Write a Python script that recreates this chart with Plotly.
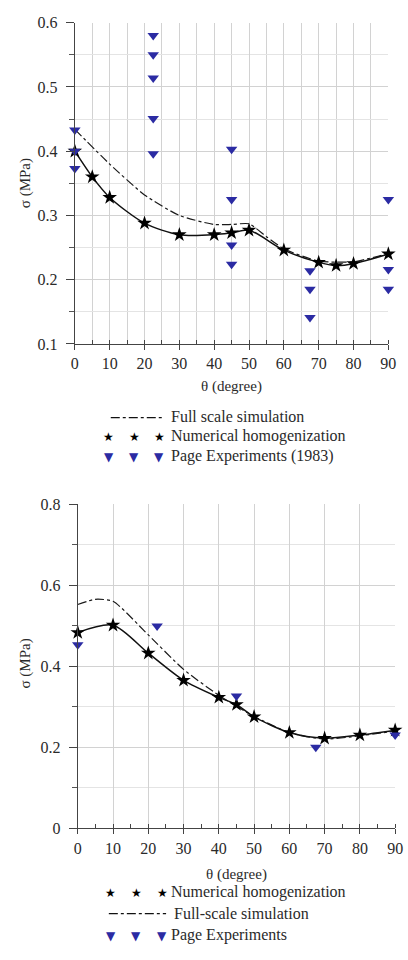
import plotly.graph_objects as go

W, H = 408, 960

# ---------------- data: top chart ----------------
theta_hom_a = [0, 5, 10, 20, 30, 40, 45, 50, 60, 70, 75, 80, 90]
sig_hom_a = [0.400, 0.360, 0.328, 0.288, 0.270, 0.270, 0.273, 0.277, 0.246, 0.227, 0.222, 0.225, 0.240]
theta_full_a = [0, 10, 20, 30, 40, 45, 50, 55, 60, 70, 80, 90]
sig_full_a = [0.434, 0.380, 0.332, 0.300, 0.286, 0.286, 0.287, 0.267, 0.248, 0.229, 0.228, 0.241]
theta_exp_a = [0, 0, 0, 22.5, 22.5, 22.5, 22.5, 22.5, 45, 45, 45, 45, 67.5, 67.5, 67.5, 90, 90, 90]
sig_exp_a = [0.433, 0.400, 0.373, 0.580, 0.550, 0.514, 0.451, 0.396, 0.403, 0.325, 0.254, 0.224,
             0.214, 0.185, 0.141, 0.325, 0.216, 0.185]

# ---------------- data: bottom chart ----------------
theta_hom_b = [0, 10, 20, 30, 40, 45, 50, 60, 70, 80, 90]
sig_hom_b = [0.483, 0.501, 0.432, 0.365, 0.323, 0.305, 0.275, 0.236, 0.222, 0.230, 0.242]
theta_full_b = [0, 5, 10, 20, 30, 40, 50, 60, 70, 80, 90]
sig_full_b = [0.552, 0.565, 0.560, 0.477, 0.392, 0.328, 0.276, 0.236, 0.220, 0.228, 0.240]
theta_exp_b = [0, 22.5, 45, 67.5, 90]
sig_exp_b = [0.453, 0.499, 0.326, 0.200, 0.230]

x_ticks = [0, 10, 20, 30, 40, 50, 60, 70, 80, 90]
y_ticks_a = [0.1, 0.2, 0.3, 0.4, 0.5, 0.6]
y_ticks_b = [0, 0.2, 0.4, 0.6, 0.8]
y_ticklabels_b = ["0", "0.2", "0.4", "0.6", "0.8"]

SERIF = "'Liberation Serif', 'Times New Roman', Times, serif"
TXT = "#2a2a2a"
BLUE = "#2b2ba3"
GRID = "#d2d2d2"
GRID_MINOR = "#e4e4e4"

fig = go.Figure()


def add_series(xa, ya, th_h, s_h, th_f, s_f, th_e, s_e):
    fig.add_trace(go.Scatter(x=th_f, y=s_f, mode="lines", xaxis=xa, yaxis=ya,
                             line=dict(color="#1a1a1a", width=1.2, dash="dashdot", shape="spline", smoothing=0.6),
                             cliponaxis=False, showlegend=False))
    fig.add_trace(go.Scatter(x=th_h, y=s_h, mode="lines+markers", xaxis=xa, yaxis=ya,
                             line=dict(color="#111111", width=1.5, shape="spline", smoothing=0.8),
                             marker=dict(symbol="star", size=11, color="#000000"),
                             cliponaxis=False, showlegend=False))
    fig.add_trace(go.Scatter(x=th_e, y=s_e, mode="markers", xaxis=xa, yaxis=ya,
                             marker=dict(symbol="triangle-down", size=10, color=BLUE),
                             cliponaxis=False, showlegend=False))


add_series("x", "y", theta_hom_a, sig_hom_a, theta_full_a, sig_full_a, theta_exp_a, sig_exp_a)
add_series("x2", "y2", theta_hom_b, sig_hom_b, theta_full_b, sig_full_b, theta_exp_b, sig_exp_b)

tickfont = dict(family=SERIF, size=16, color=TXT)


def xaxis(domain, anchor, minor_grid):
    return dict(domain=domain, anchor=anchor, range=[0, 90], tickvals=x_ticks,
                showline=True, linecolor="#444", linewidth=1.3,
                ticks="outside", ticklen=5, tickcolor="#444", tickwidth=1.2,
                showgrid=True, gridcolor=GRID, gridwidth=1, zeroline=False,
                tickfont=tickfont,
                minor=dict(dtick=5, ticks="inside", ticklen=4, tickcolor="#444",
                           showgrid=minor_grid, gridcolor=GRID))


def yaxis(domain, anchor, rng, tv, tt, mdt):
    return dict(domain=domain, anchor=anchor, range=rng, tickvals=tv, ticktext=tt,
                showline=True, linecolor="#444", linewidth=1.3,
                ticks="outside", ticklen=8, tickcolor="#444", tickwidth=1.2,
                showgrid=True, gridcolor=GRID, gridwidth=1, zeroline=False,
                tickfont=tickfont, ticklabelstandoff=5,
                minor=dict(dtick=mdt, tick0=0, ticks="outside", ticklen=5, tickcolor="#555",
                           showgrid=True, gridcolor=GRID_MINOR))


fig.update_layout(
    width=W, height=H, margin=dict(l=0, r=0, t=0, b=0),
    paper_bgcolor="white", plot_bgcolor="white",
    font=dict(family=SERIF, color=TXT),
    xaxis=xaxis([73 / W, 396 / W], "y", True),
    yaxis=yaxis([1 - 342 / H, 1 - 15 / H], "x", [0.1, 0.6], y_ticks_a,
                [f"{v:.1f}" for v in y_ticks_a], 0.05),
    xaxis2=xaxis([76 / W, 403 / W], "y2", False),
    yaxis2=yaxis([1 - 835 / H, 1 - 505 / H], "x2", [0, 0.8], y_ticks_b, y_ticklabels_b, 0.1),
    showlegend=False,
)

annotations = []
shapes = []


def txt(x, y, text, size=15, color=TXT, angle=0, xanchor="center"):
    annotations.append(dict(x=x / W, y=1 - y / H, xref="paper", yref="paper", text=text,
                            showarrow=False, font=dict(family=SERIF, size=size, color=color),
                            textangle=angle, xanchor=xanchor, yanchor="middle"))


# axis titles
txt(22, 178, "σ (MPa)", size=15, angle=-90)
txt(234, 385, "θ (degree)", size=15)
txt(22, 667, "σ (MPa)", size=15, angle=-90)
txt(240, 882, "θ (degree)", size=15)


def glyphs(y, sym, color, xs):
    for gx in xs:
        annotations.append(dict(x=gx / W, y=1 - y / H, xref="paper", yref="paper", text=sym,
                                showarrow=False, font=dict(family="DejaVu Sans", size=12, color=color),
                                xanchor="center", yanchor="middle"))


def dashline(y, x0, x1):
    shapes.append(dict(type="line", xref="paper", yref="paper", x0=x0 / W, x1=x1 / W,
                       y0=1 - y / H, y1=1 - y / H, line=dict(color="#111", width=1.3, dash="dashdot")))


# top legend
dashline(417, 110, 163)
txt(170, 416, "Full scale simulation", size=16, xanchor="left")
glyphs(437, "★", "#000", [108, 134, 160])
txt(170, 436, "Numerical homogenization", size=16, xanchor="left")
glyphs(457, "▼", BLUE, [108, 134, 160])
txt(170, 456, "Page Experiments (1983)", size=16, xanchor="left")

# bottom legend
glyphs(901, "★", "#000", [110, 136, 163])
txt(170, 900, "Numerical homogenization", size=16, xanchor="left")
dashline(922, 108, 167)
txt(173, 922, "Full-scale simulation", size=16, xanchor="left")
glyphs(945, "▼", BLUE, [110, 136, 163])
txt(170, 944, "Page Experiments", size=16, xanchor="left")

fig.update_layout(annotations=annotations, shapes=shapes)
fig.write_html("out.html", config={"displayModeBar": False},
               post_script="document.body.style.margin='0';document.body.style.overflow='hidden';")
